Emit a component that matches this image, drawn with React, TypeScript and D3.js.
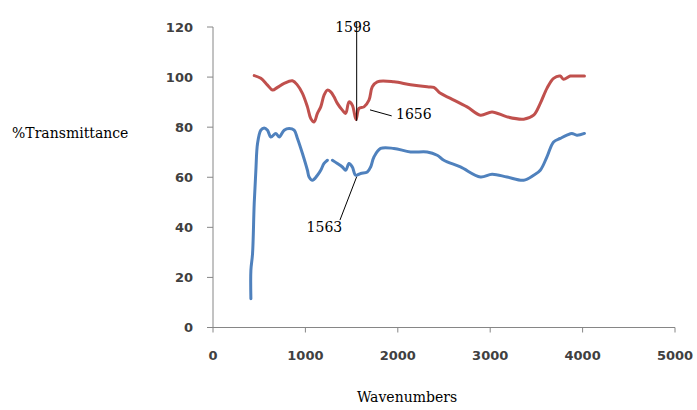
import React from "react";
import * as d3 from "d3";

// red spectrum (upper)
const redWn = [446, 518, 590, 645, 698, 770, 860, 914, 968, 1022, 1058, 1094, 1130, 1166, 1202, 1238, 1274, 1310, 1346, 1400, 1436, 1472, 1508, 1548, 1580, 1634, 1688, 1724, 1778, 1958, 2138, 2318, 2390, 2462, 2570, 2750, 2894, 3020, 3182, 3362, 3470, 3542, 3614, 3686, 3758, 3794, 3866, 3938, 4020];
const redT = [100.6, 99.5, 96.8, 94.8, 95.9, 97.5, 98.5, 96.8, 93.5, 88.1, 83.5, 82.1, 85.5, 88.1, 92.8, 94.8, 94.1, 92.1, 89.5, 86.8, 85.5, 90.1, 88.8, 83.0, 87.5, 88.1, 90.8, 96.1, 98.1, 98.1, 96.9, 96.1, 95.9, 93.5, 91.5, 88.1, 84.8, 86.1, 84.1, 83.2, 84.8, 89.5, 95.5, 99.5, 100.4, 99.1, 100.4, 100.4, 100.4];

// blue spectrum (lower); NaN marks the break in the trace
const blueWn = [410, 410, 428, 446, 464, 482, 518, 554, 590, 626, 680, 716, 770, 824, 878, 914, 968, 1022, 1040, 1076, 1130, 1166, 1202, 1238, 1265, 1292, 1346, 1400, 1436, 1472, 1508, 1544, 1598, 1670, 1706, 1742, 1814, 1958, 2138, 2318, 2426, 2498, 2678, 2894, 3020, 3182, 3362, 3470, 3542, 3614, 3686, 3758, 3830, 3884, 3938, 4020];
const blueT = [11.5, 22.8, 29.5, 49.5, 62.8, 73.5, 78.8, 79.7, 78.8, 76.1, 77.5, 76.1, 78.8, 79.5, 78.8, 75.5, 69.5, 62.8, 60.1, 58.8, 60.8, 62.8, 65.5, 66.8, NaN, 66.8, 65.5, 64.1, 62.8, 65.5, 64.1, 60.8, 61.5, 62.1, 64.1, 68.1, 71.5, 71.5, 70.1, 70.1, 68.8, 66.8, 64.1, 60.1, 61.2, 60.1, 58.8, 60.8, 62.8, 68.1, 74.1, 75.5, 76.8, 77.5, 76.8, 77.5];

const xTicks = [0, 1000, 2000, 3000, 4000, 5000];
const yTicks = [0, 20, 40, 60, 80, 100, 120];

// peak annotations: label, label anchor, line from -> to (all in data units)
const notes = [
  { label: "1598", tx: 1515, ty: 118, anchor: "middle", x1: 1555, y1: 122, x2: 1555, y2: 82.5 },
  { label: "1656", tx: 1981, ty: 83.3, anchor: "start", x1: 1934, y1: 84.5, x2: 1699, y2: 86.9 },
  { label: "1563", tx: 1206, ty: 38.1, anchor: "middle", x1: 1374, y1: 42.9, x2: 1555, y2: 60.2 },
];

const W = 697,
  H = 410;

export default function App() {
  const x = d3.scaleLinear().domain([0, 5000]).range([213, 675]);
  const y = d3.scaleLinear().domain([0, 120]).range([327.5, 27]);

  const line = d3
    .line<number>()
    .defined((d, i, arr) => true)
    .curve(d3.curveMonotoneX);

  const path = (wn: number[], t: number[]) =>
    d3
      .line<number>()
      .defined((_, i) => !isNaN(t[i]))
      .x((_, i) => x(wn[i]))
      .y((_, i) => y(t[i]))
      .curve(d3.curveCatmullRom.alpha(0.5))(wn.map((_, i) => i)) || "";

  const axisColor = "#868686";
  const tickFont = { fontFamily: "DejaVu Sans", fontSize: 13, fontWeight: "bold" as const, fill: "#404040" };
  const serif = { fontFamily: "DejaVu Serif", fontSize: 14, fill: "#000" };

  return (
    <svg width={W} height={H} style={{ position: "absolute", left: 0, top: 0, background: "#fff" }}>
      {/* y axis */}
      <line x1={x(0)} x2={x(0)} y1={y(120)} y2={y(0)} stroke={axisColor} />
      {yTicks.map((t) => (
        <g key={"y" + t}>
          <line x1={x(0) - 6} x2={x(0)} y1={y(t)} y2={y(t)} stroke={axisColor} />
          <text x={193} y={y(t)} dy="0.35em" textAnchor="end" {...tickFont}>
            {t}
          </text>
        </g>
      ))}
      {/* x axis */}
      <line x1={x(0)} x2={x(5000)} y1={y(0)} y2={y(0)} stroke={axisColor} />
      {xTicks.map((t) => (
        <g key={"x" + t}>
          <line x1={x(t)} x2={x(t)} y1={y(0)} y2={y(0) + 5} stroke={axisColor} />
          <text x={x(t)} y={360} textAnchor="middle" {...tickFont}>
            {t}
          </text>
        </g>
      ))}

      <path d={path(redWn, redT)} fill="none" stroke="#C0504D" strokeWidth={3} strokeLinejoin="round" strokeLinecap="round" />
      <path d={path(blueWn, blueT)} fill="none" stroke="#4F81BD" strokeWidth={3} strokeLinejoin="round" strokeLinecap="round" />

      {notes.map((n) => (
        <g key={n.label}>
          <line x1={x(n.x1)} y1={y(n.y1)} x2={x(n.x2)} y2={y(n.y2)} stroke="#000" strokeWidth={1} />
          <text x={x(n.tx)} y={y(n.ty)} textAnchor={n.anchor as any} {...serif}>
            {n.label}
          </text>
        </g>
      ))}

      <text x={12} y={138} {...serif}>
        %Transmittance
      </text>
      <text x={407} y={402} textAnchor="middle" {...serif}>
        Wavenumbers
      </text>
    </svg>
  );
}
